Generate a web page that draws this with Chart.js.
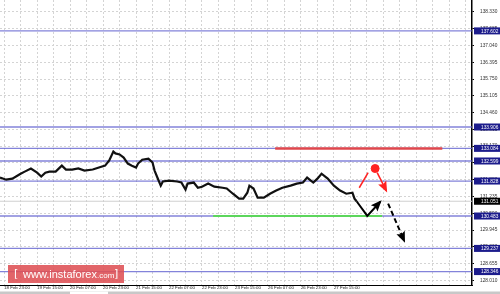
<!DOCTYPE html>
<html>
<head>
<meta charset="utf-8">
<script src="https://cdn.jsdelivr.net/npm/chart.js@4.4.1/dist/chart.umd.min.js"></script>
<style>
  html, body { margin: 0; padding: 0; background: #fff; }
  #wrap { width: 500px; height: 294px; position: relative; }
</style>
</head>
<body>
<div id="wrap"><canvas id="chart"></canvas></div>
<script>
// ---- data ----
const timeLabels = ['18 Feb 23:00', '19 Feb 15:00', '20 Feb 07:00', '20 Feb 23:00', '21 Feb 15:00',
    '22 Feb 07:00', '22 Feb 23:00', '23 Feb 15:00', '26 Feb 07:00', '26 Feb 23:00', '27 Feb 15:00'];
const labelHours = [2, 18, 34, 50, 66, 82, 98, 114, 130, 146, 162];

const priceTicks = [138.330, 137.685, 137.040, 136.395, 135.750, 135.105, 134.460, 133.815, 133.170,
    132.525, 131.880, 131.235, 130.590, 129.945, 129.300, 128.655, 128.010];

const priceHours = [0, 3, 6, 10, 12, 15, 18, 20, 22, 24, 27, 30, 32, 35, 38, 41, 45, 48, 51, 53,
    55, 56, 58, 60, 62, 64, 66, 67, 69, 72, 74, 75, 77, 78, 79, 82, 86, 88, 90, 91,
    94, 96, 98, 101, 104, 108, 110, 113, 116, 118, 120, 121, 123, 125, 128, 131, 134, 137, 141, 144,
    147, 149, 152, 154, 156, 159, 162, 165, 168, 171, 172, 173];
const prices = [131.96, 131.88, 131.92, 132.11, 132.19, 132.31, 132.15, 132.00, 132.15, 132.19,
    132.19, 132.42, 132.27, 132.27, 132.31, 132.23, 132.27, 132.35, 132.42, 132.62,
    132.96, 132.89, 132.85, 132.73, 132.50, 132.42, 132.35, 132.50, 132.65, 132.69,
    132.54, 132.23, 131.84, 131.65, 131.81, 131.84, 131.81, 131.77, 131.50, 131.73,
    131.77, 131.57, 131.61, 131.73, 131.61, 131.57, 131.54, 131.34, 131.15, 131.15,
    131.38, 131.65, 131.54, 131.19, 131.19, 131.34, 131.46, 131.57, 131.65, 131.73,
    131.77, 131.96, 131.77, 131.92, 132.11, 131.92, 131.65, 131.46, 131.34, 131.38,
    131.15, 131.05];

const levels = [137.602, 133.906, 133.084, 132.599, 131.828, 130.483, 129.237, 128.346];
const bidPrice = 131.051;

const greenHours = [103.4, 185.4], greenPrice = 130.483;
const redHours = [133.5, 214.6], redPrice = 133.084;
const blackHours = [173, 178.2, 184.5], blackPrices = [131.05, 130.49, 131.03];
const dashHours = [188.3, 196.1], dashPrices = [130.96, 129.53];
const redUpHours = [174.3, 178.6], redUpPrices = [131.57, 132.15];
const redDotHour = 182, redDotPrice = 132.31;
const redDownHours = [183, 187.4], redDownPrices = [132.15, 131.46];

const X_MAX = 229;

function pts(xs, ys) { return xs.map((x, i) => ({ x: x, y: ys[i] })); }

//=======================================================================================
// datasets (lower order = drawn on top) ================================================
//=======================================================================================
let datasets = [];

levels.forEach((v) => {
    datasets.push({
        data: [{ x: 0, y: v }, { x: X_MAX, y: v }], order: 10,
        borderColor: 'rgba(90,90,205,0.75)', borderWidth: 1.3, pointRadius: 0,
    });
});
datasets.push({
    data: [{ x: 0, y: bidPrice }, { x: X_MAX, y: bidPrice }], order: 11,
    borderColor: '#d0d0d0', borderWidth: 1, pointRadius: 0,
});
datasets.push({
    data: pts(greenHours, [greenPrice, greenPrice]), order: 5,
    borderColor: '#5cd65c', borderWidth: 2, pointRadius: 0,
});
datasets.push({
    data: pts(redHours, [redPrice, redPrice]), order: 5,
    borderColor: '#e0474c', borderWidth: 2.5, pointRadius: 0,
});
datasets.push({
    data: pts(priceHours, prices), order: 3,
    borderColor: '#111', borderWidth: 2.2, pointRadius: 0, tension: 0,
});
datasets.push({
    data: pts(blackHours, blackPrices), order: 1,
    borderColor: '#000', borderWidth: 2, pointRadius: 0, arrowHead: true,
});
datasets.push({
    data: pts(dashHours, dashPrices), order: 1,
    borderColor: '#000', borderWidth: 2, borderDash: [5, 3], pointRadius: 0, arrowHead: true,
});
datasets.push({
    data: pts(redUpHours, redUpPrices), order: 1,
    borderColor: '#f22', borderWidth: 1.5, pointRadius: 0,
});
datasets.push({
    data: pts(redDownHours, redDownPrices), order: 1,
    borderColor: '#f22', borderWidth: 1.5, pointRadius: 0, arrowHead: true,
});
datasets.push({
    data: [{ x: redDotHour, y: redDotPrice }], order: 1,
    borderColor: '#f22', backgroundColor: '#f22', pointRadius: 4, showLine: false,
});

//=======================================================================================
// plugins ==============================================================================
//=======================================================================================
const arrowPlugin = {
    id: 'arrows',
    afterDatasetsDraw(chart) {
        const ctx = chart.ctx;
        chart.data.datasets.forEach((ds, i) => {
            if (!ds.arrowHead) return;
            const p = chart.getDatasetMeta(i).data;
            const a = p[p.length - 2], b = p[p.length - 1];
            const ang = Math.atan2(b.y - a.y, b.x - a.x);
            const L = 9, W = 4.5;
            ctx.save();
            ctx.fillStyle = ds.borderColor;
            ctx.translate(b.x, b.y);
            ctx.rotate(ang);
            ctx.beginPath();
            ctx.moveTo(2, 0);
            ctx.lineTo(-L, -W);
            ctx.lineTo(-L + 2, 0);
            ctx.lineTo(-L, W);
            ctx.closePath();
            ctx.fill();
            ctx.restore();
        });
    }
};

const levelBoxPlugin = {
    id: 'levelBoxes',
    afterDraw(chart) {
        const ctx = chart.ctx, y = chart.scales.y, left = chart.chartArea.right + 2;
        ctx.save();
        ctx.font = '4.8px "Liberation Sans"';
        ctx.textBaseline = 'middle';
        const box = (v, bg) => {
            const py = y.getPixelForValue(v);
            ctx.fillStyle = bg;
            ctx.fillRect(left, py - 3.5, chart.width - left, 7);
            ctx.fillStyle = '#fff';
            ctx.fillText(v.toFixed(3), left + 7, py + 0.3);
        };
        levels.forEach((v) => box(v, '#1c1c8c'));
        box(bidPrice, '#000');
        ctx.restore();
    }
};

const watermarkPlugin = {
    id: 'watermark',
    afterDraw(chart) {
        const ctx = chart.ctx;
        ctx.save();
        ctx.fillStyle = 'rgba(222,80,84,0.88)';
        ctx.fillRect(8, 265, 116, 18);
        ctx.fillStyle = '#fff';
        ctx.textBaseline = 'middle';
        ctx.font = '11px "DejaVu Sans"';
        ctx.fillText('[', 14, 274);
        ctx.font = '11px "Liberation Sans"';
        ctx.fillText('www.instaforex', 23, 274.5);
        let w = ctx.measureText('www.instaforex').width;
        ctx.font = '8px "Liberation Sans"';
        ctx.fillText('.com', 23 + w, 275.5);
        ctx.font = '11px "DejaVu Sans"';
        ctx.fillText(']', 114, 274);
        // bottom scroll strip
        ctx.fillStyle = '#c8c8c8';
        ctx.fillRect(0, 291.5, 500, 2.5);
        ctx.fillStyle = '#fff';
        ctx.fillRect(70, 291.5, 38, 2.5);
        ctx.restore();
    }
};

//=======================================================================================
// chart ================================================================================
//=======================================================================================
let ctx = document.getElementById('chart');

let config = {
    type: 'line',
    data: { datasets: datasets },
    options: {
        responsive: true,
        maintainAspectRatio: false,
        animation: false,
        layout: { padding: 0, autoPadding: false },
        plugins: { legend: { display: false }, tooltip: { enabled: false } },
        scales: {
            x: {
                type: 'linear', min: 0, max: X_MAX,
                afterBuildTicks: (s) => {
                    let t = [];
                    for (let h = 2; h < X_MAX; h += 8) t.push({ value: h });
                    s.ticks = t;
                },
                afterFit: (s) => {
                    s.height = 9;
                    s.paddingLeft = 0; s.paddingRight = 0;
                },
                ticks: {
                    autoSkip: false, maxRotation: 0, align: 'start', padding: 0.5,
                    color: '#222', font: { size: 4.4, family: 'Liberation Sans' },
                    callback: (v) => {
                        let i = labelHours.indexOf(v);
                        return i >= 0 ? timeLabels[i] : '';
                    }
                },
                grid: { color: '#d4d4d4', drawTicks: false },
                border: { color: '#000', width: 1, dash: [2, 2] },
            },
            y: {
                position: 'right', min: 127.83, max: 138.79,
                afterBuildTicks: (s) => { s.ticks = priceTicks.map((v) => ({ value: v })); },
                afterFit: (s) => {
                    s.width = 28;
                    s.paddingTop = 0; s.paddingBottom = 0;
                },
                ticks: {
                    padding: 6, color: '#333', font: { size: 4.8, family: 'Liberation Sans' },
                    callback: (v) => v.toFixed(3)
                },
                grid: { color: '#d4d4d4', tickColor: '#000', tickLength: 2 },
                border: { color: '#000', width: 1.5, dash: [2, 2] },
            }
        }
    },
    plugins: [arrowPlugin, levelBoxPlugin, watermarkPlugin]
};

new Chart(ctx, config);
</script>
</body>
</html>
